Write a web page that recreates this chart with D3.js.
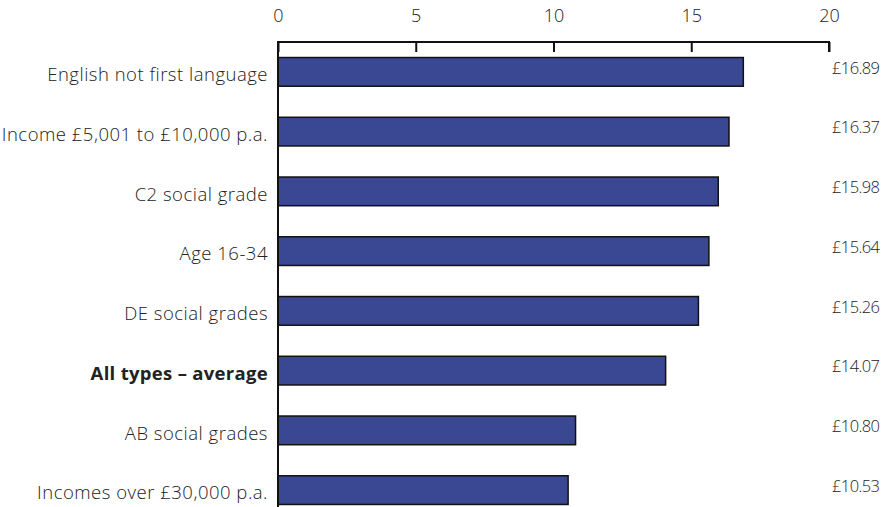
<!DOCTYPE html>
<html>
<head>
<meta charset="utf-8">
<script src="https://cdn.jsdelivr.net/npm/d3@7"></script>
<style>
  html, body { margin: 0; padding: 0; background: #fff; }
  svg { display: block; font-family: "Open Sans", Lato, sans-serif; font-weight: 300; }
</style>
</head>
<body>
<svg id="chart" width="894" height="507"></svg>
<script>
// Average spend by audience group (£)
const categories = [
  "English not first language",
  "Income £5,001 to £10,000 p.a.",
  "C2 social grade",
  "Age 16-34",
  "DE social grades",
  "All types – average",
  "AB social grades",
  "Incomes over £30,000 p.a."
];
const values = [16.89, 16.37, 15.98, 15.64, 15.26, 14.07, 10.80, 10.53];
const valueLabels = ["£16.89", "£16.37", "£15.98", "£15.64", "£15.26", "£14.07", "£10.80", "£10.53"];
const highlighted = ["All types – average"];
const xTicks = [0, 5, 10, 15, 20];

const svg = d3.select("#chart");
const plotLeft = 278, plotRight = 829, plotTop = 42, plotBottom = 520;

const x = d3.scaleLinear().domain([0, 20]).range([plotLeft, plotRight]);
const y = d3.scaleBand().domain(categories).range([plotTop, plotBottom]).paddingInner(0.52).paddingOuter(0.26);

// bars
svg.append("g").selectAll("rect")
  .data(values)
  .join("rect")
  .attr("x", x(0))
  .attr("y", (d, i) => y(categories[i]))
  .attr("width", d => x(d) - x(0))
  .attr("height", y.bandwidth())
  .attr("fill", "#3a4894")
  .attr("stroke", "#111")
  .attr("stroke-width", 1.5);

// top axis
const xAxis = d3.axisTop(x).tickValues(xTicks).tickSize(-10).tickPadding(20).tickFormat(d3.format("d"));
const gx = svg.append("g").attr("transform", `translate(0,${plotTop})`).call(xAxis);
gx.select(".domain").attr("d", `M${plotLeft},10V0H${plotRight}V10`).attr("stroke", "#111").attr("stroke-width", 2);
gx.selectAll(".tick line").attr("stroke", "#111").attr("stroke-width", 2);
gx.selectAll(".tick text").attr("font-size", 18).attr("font-family", "'Open Sans', sans-serif").attr("font-weight", 300).attr("fill", "#222").attr("dy", "0");

// left axis (labels right-aligned beside the bars)
const yAxis = d3.axisLeft(y).tickSize(0).tickPadding(10);
const gy = svg.append("g").attr("transform", `translate(${plotLeft},0)`).call(yAxis);
gy.select(".domain").attr("d", `M0,${plotTop}V507`).attr("stroke", "#111").attr("stroke-width", 2);
gy.selectAll(".tick text")
  .attr("font-size", 18.5)
  .attr("letter-spacing", d => highlighted.includes(d) ? 0.3 : 0.5)
  .attr("font-family", "'Open Sans', sans-serif")
  .attr("font-weight", d => highlighted.includes(d) ? 700 : 300)
  .attr("fill", "#222")
  .attr("dy", "0.5em");

// value labels on the right
svg.append("g").selectAll("text")
  .data(values)
  .join("text")
  .attr("x", x(20) + 3)
  .attr("y", (d, i) => y(categories[i]) + y.bandwidth() / 2 - 4)
  .attr("dy", "0.35em")
  .attr("font-size", 16.5)
  .attr("letter-spacing", -0.6)
  .attr("fill", "#222")
  .text((d, i) => valueLabels[i]);
</script>
</body>
</html>
